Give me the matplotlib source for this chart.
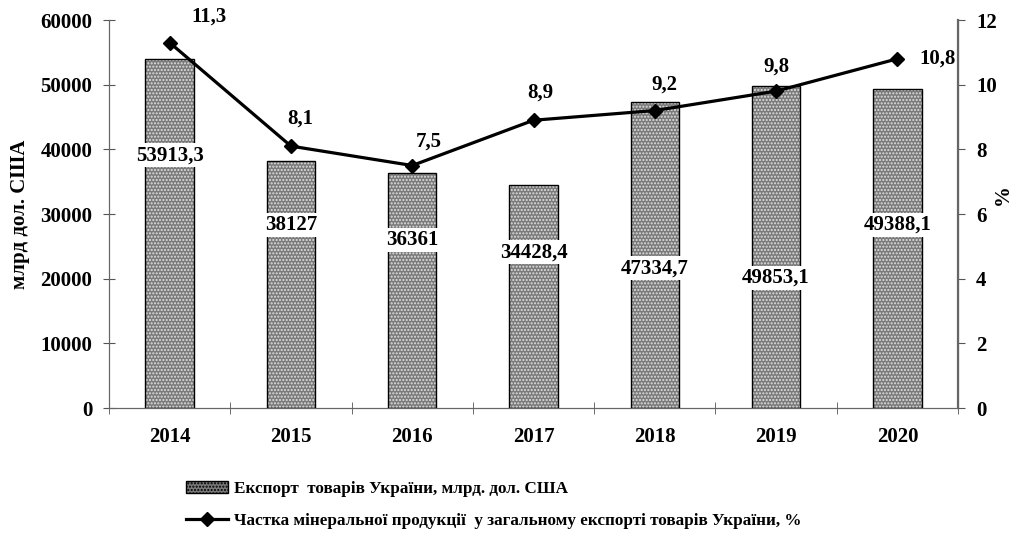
import matplotlib
matplotlib.use("Agg")
import matplotlib.pyplot as plt
from matplotlib.patches import Patch
from matplotlib.lines import Line2D
import numpy as np

plt.rcParams['font.family'] = ['Liberation Serif', 'DejaVu Serif']
plt.rcParams['font.weight'] = 'bold'

# дані
years = ['2014', '2015', '2016', '2017', '2018', '2019', '2020']
export = [53913.3, 38127, 36361, 34428.4, 47334.7, 49853.1, 49388.1]
export_labels = ['53913,3', '38127', '36361', '34428,4', '47334,7', '49853,1', '49388,1']
share = [11.3, 8.1, 7.5, 8.9, 9.2, 9.8, 10.8]
share_labels = ['11,3', '8,1', '7,5', '8,9', '9,2', '9,8', '10,8']

# розміщення підписів (не дані)
label_y = [39100, 28300, 26000, 24100, 21600, 20100, 28300]
share_offsets = [(28, 19), (7, 20), (12, 17), (5, 20), (7, 19), (0, 18), (29, 0)]

fs = 15
fig = plt.figure(figsize=(10.14, 5.51), dpi=100)
ax = fig.add_axes([0.1075, 0.2595, 0.8373, 0.7042])
ax2 = ax.twinx()

x = np.arange(len(years))
# штрихування крапками: сірий фон + білі крапки, потім чорний контур
ax.bar(x, export, width=0.4, color='#7a7a7a', edgecolor='#e0e0e0', hatch='.....', linewidth=0, zorder=2)
ax.bar(x, export, width=0.4, fill=False, edgecolor='black', linewidth=1.0, zorder=3)

for i in range(len(years)):
    ax.text(x[i], label_y[i], export_labels[i], ha='center', va='center', fontsize=fs,
            fontweight='bold', zorder=4,
            bbox=dict(facecolor='white', edgecolor='none', pad=1.5))

ax.set_xlim(-0.5, len(years) - 0.5)
ax.set_ylim(0, 60000)
ax.set_yticks(range(0, 60001, 10000))
ax.set_xticks(x)
ax.set_xticklabels(years, fontsize=fs, fontweight='bold')
ax.set_xticks(np.arange(-0.5, len(years)), minor=True)
ax.tick_params(axis='x', which='major', length=0, pad=14)
ax.tick_params(axis='x', which='minor', direction='inout', length=8, color='#555555')
ax.tick_params(axis='y', direction='inout', length=8, color='#555555', labelsize=fs, pad=8)
for lab in ax.get_yticklabels():
    lab.set_fontweight('bold')
ax.set_ylabel('млрд дол. США', fontsize=fs, fontweight='bold')
ax.yaxis.set_label_coords(-0.093, 0.5)

ax.spines['top'].set_visible(False)
ax2.spines['top'].set_visible(False)
for s in ['left', 'bottom', 'right']:
    ax.spines[s].set_color('#555555')
    ax2.spines[s].set_color('#666666')
ax2.spines['right'].set_linewidth(1.6)

ax2.plot(x, share, color='black', linewidth=2.3, marker='D', markersize=7, zorder=5)
for i in range(len(years)):
    ax2.annotate(share_labels[i], (x[i], share[i]), xytext=share_offsets[i],
                 textcoords='offset points', ha='center', va='center',
                 fontsize=fs, fontweight='bold')
ax2.set_ylim(0, 12)
ax2.set_yticks(range(0, 13, 2))
ax2.tick_params(axis='y', direction='out', length=5, color='#555555', labelsize=fs, pad=8)
for lab in ax2.get_yticklabels():
    lab.set_fontweight('bold')
ax2.set_ylabel('%', fontsize=fs, fontweight='bold', rotation=90, va='center', ha='center')
ax2.yaxis.set_label_coords(1.053, 0.55)

handles = [
    Patch(facecolor='#7a7a7a', edgecolor='black', hatch='.....', linewidth=1.0),
    Line2D([0], [0], color='black', linewidth=2.3, marker='D', markersize=7),
]
labels = ['Експорт  товарів України, млрд. дол. США',
          'Частка мінеральної продукції  у загальному експорті товарів України, %']
fig.legend(handles, labels, loc='upper left', bbox_to_anchor=(0.168, 0.155),
           frameon=False, handlelength=2.5, labelspacing=0.95,
           handletextpad=0.3, prop={'weight': 'bold', 'size': 12.3})

fig.savefig('out.png', dpi=100)
